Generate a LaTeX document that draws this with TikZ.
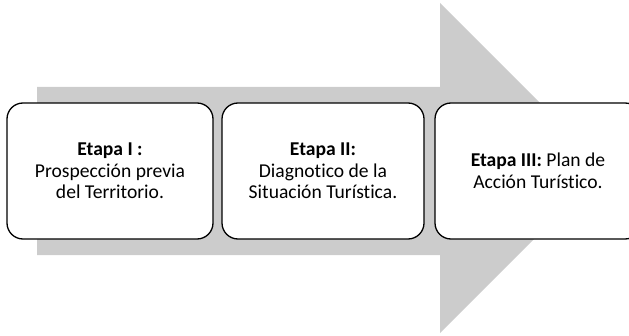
\documentclass[tikz,border=0pt]{standalone}
\usepackage{fontspec}
\setmainfont[Ligatures=CommonOff]{Carlito}
\definecolor{arrowgray}{RGB}{204,204,204}
\tikzset{
  stagebox/.style={draw=black, line width=1.3pt, fill=white, rounded corners=16pt,
    minimum height=136pt, inner sep=2pt, align=center,
    font=\fontsize{19.6pt}{21.5pt}\selectfont},
}
\begin{document}
\begin{tikzpicture}[x=1pt,y=1pt]
\useasboundingbox (0,0) rectangle (629,335);
\clip (0,0) rectangle (629,335);
\fill[arrowgray] (37,248) -- (440,248) -- (440,332) -- (605,167) -- (440,2) -- (440,80) -- (37,80) -- cycle;
\node[stagebox, minimum width=206pt] (e1) at (110,164) {\textbf{Etapa I :}\\Prospección previa\\del Territorio.};
\node[stagebox, minimum width=202pt] (e2) at (323,164) {\textbf{Etapa II:}\\Diagnotico de la\\Situación Turística.};
\node[stagebox, minimum width=206pt] (e3) at (538,164) {\textbf{Etapa III:} Plan de\\Acción Turístico.};
\end{tikzpicture}
\end{document}
